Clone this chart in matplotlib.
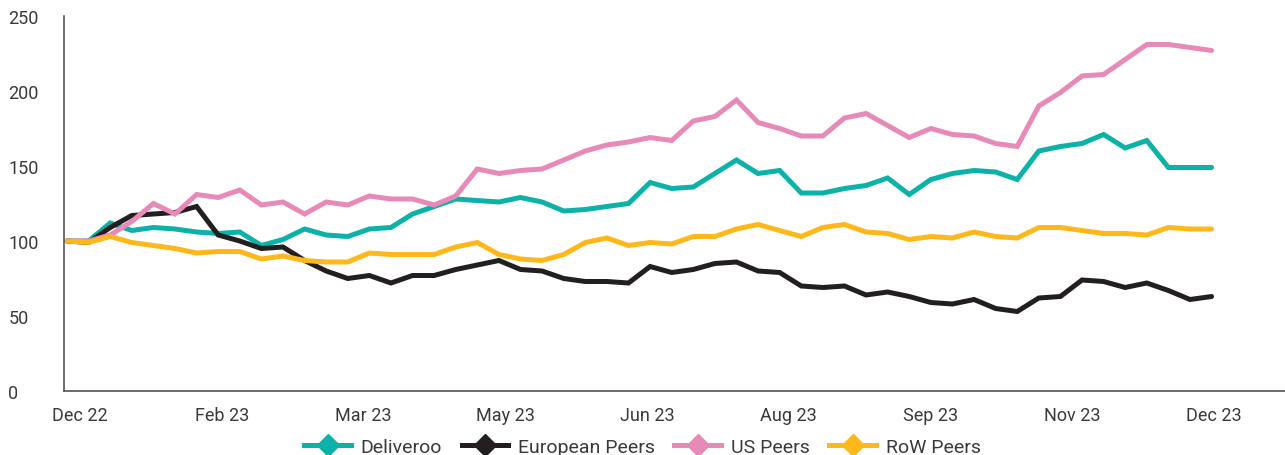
import matplotlib
matplotlib.use("Agg")
import matplotlib.pyplot as plt
from matplotlib.lines import Line2D
import numpy as np

plt.rcParams["font.family"] = ["Roboto", "DejaVu Sans"]

# weekly index values, rebased to 100 at Dec 22
deliveroo = [100, 100, 112, 107, 109, 108, 106, 105, 106, 97, 101, 108, 104, 103, 108, 109,
             118, 123, 128, 127, 126, 129, 126, 120, 121, 123, 125, 139, 135, 136, 145, 154,
             145, 147, 132, 132, 135, 137, 142, 131, 141, 145, 147, 146, 141, 160, 163, 165,
             171, 162, 167, 149, 149, 149]
european_peers = [100, 99, 109, 117, 118, 119, 123, 104, 100, 95, 96, 87, 80, 75, 77, 72,
                  77, 77, 81, 84, 87, 81, 80, 75, 73, 73, 72, 83, 79, 81, 85, 86,
                  80, 79, 70, 69, 70, 64, 66, 63, 59, 58, 61, 55, 53, 62, 63, 74,
                  73, 69, 72, 67, 61, 63]
us_peers = [100, 100, 104, 113, 125, 118, 131, 129, 134, 124, 126, 118, 126, 124, 130, 128,
            128, 124, 130, 148, 145, 147, 148, 154, 160, 164, 166, 169, 167, 180, 183, 194,
            179, 175, 170, 170, 182, 185, 177, 169, 175, 171, 170, 165, 163, 190, 199, 210,
            211, 221, 231, 231, 229, 227]
row_peers = [100, 99, 103, 99, 97, 95, 92, 93, 93, 88, 90, 87, 86, 86, 92, 91,
             91, 91, 96, 99, 91, 88, 87, 91, 99, 102, 97, 99, 98, 103, 103, 108,
             111, 107, 103, 109, 111, 106, 105, 101, 103, 102, 106, 103, 102, 109, 109, 107,
             105, 105, 104, 109, 108, 108]

tick_labels = ["Dec 22", "Feb 23", "Mar 23", "May 23", "Jun 23",
               "Aug 23", "Sep 23", "Nov 23", "Dec 23"]

series = [
    ("Deliveroo", deliveroo, "#0cb2a8"),
    ("European Peers", european_peers, "#231f20"),
    ("US Peers", us_peers, "#e78ab8"),
    ("RoW Peers", row_peers, "#ffb81c"),
]

fig = plt.figure(figsize=(12.85, 4.56), dpi=100)
ax = fig.add_axes([64 / 1285, 1 - 392 / 456, 1 - 64 / 1285, (392 - 17) / 456])

x = np.arange(len(deliveroo))
for name, values, color in series:
    ax.plot(x, values, color=color, linewidth=3.6, solid_joinstyle="miter",
            solid_capstyle="round")

ax.set_ylim(0, 250)
ax.set_xlim(-0.14, 56.4)
ax.set_yticks([0, 50, 100, 150, 200, 250])
ax.set_xticks(np.linspace(0.6, 53.1, len(tick_labels)), tick_labels)
ax.tick_params(axis="both", length=0, labelsize=13, labelcolor="#3a3a3a")
ax.tick_params(axis="y", pad=40)
ax.tick_params(axis="x", pad=11)
for label in ax.get_yticklabels():
    label.set_horizontalalignment("left")

for side in ["top", "right"]:
    ax.spines[side].set_visible(False)
for side in ["left", "bottom"]:
    ax.spines[side].set_color("#555555")
    ax.spines[side].set_linewidth(1.2)

handles = [
    Line2D([], [], color=color, linewidth=3.6, marker="D", markersize=11)
    for _, _, color in series
]
fig.legend(handles, [name for name, _, _ in series], loc="center",
           bbox_to_anchor=(0.5, 1 - 448 / 456), ncol=4, frameon=False,
           fontsize=14, handlelength=2.4, handletextpad=0.5, columnspacing=1.0,
           labelcolor="#3a3a3a")

fig.savefig("out.png", dpi=100)
